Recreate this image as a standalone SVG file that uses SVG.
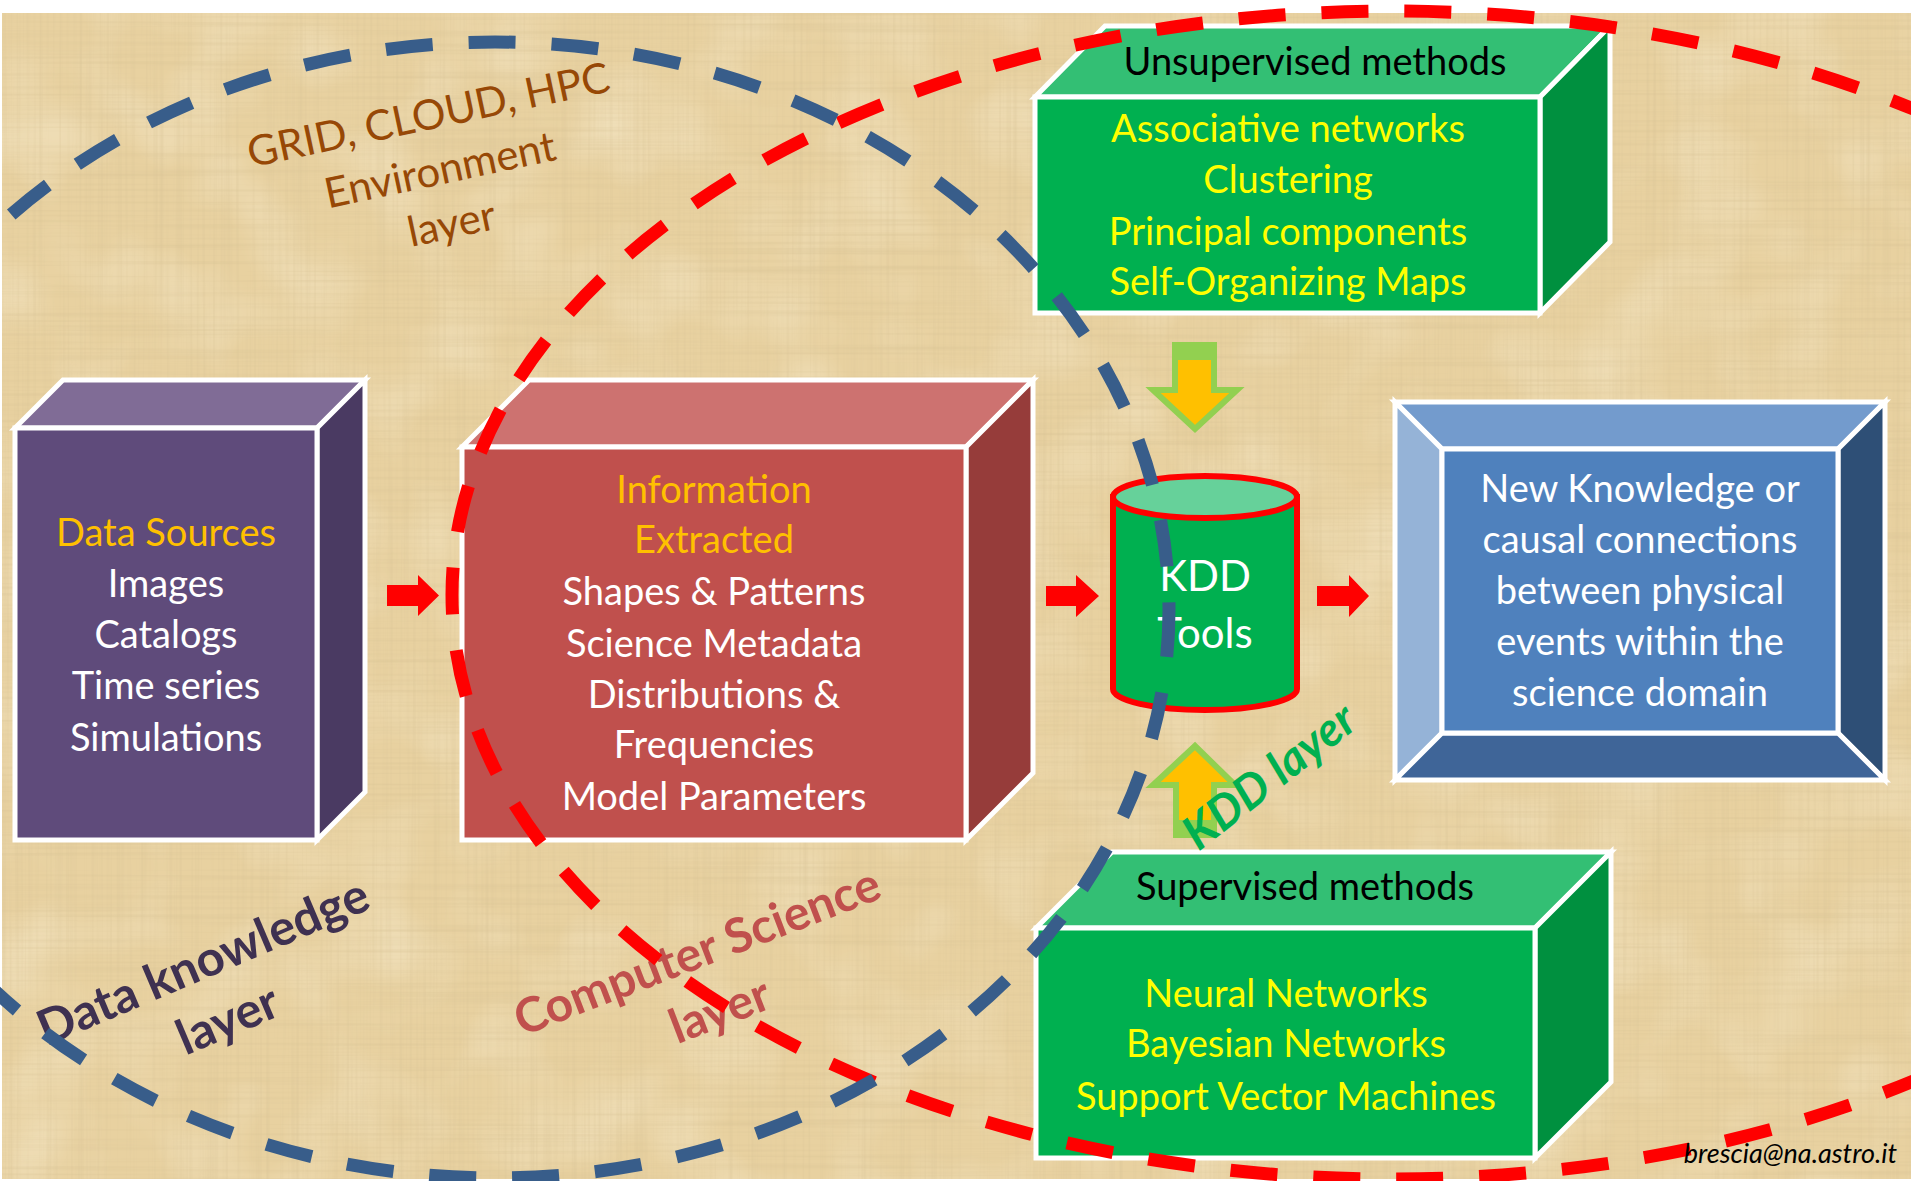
<svg xmlns="http://www.w3.org/2000/svg" width="1911" height="1181" viewBox="0 0 1911 1181">
  <style>
    .face { stroke: #FFFFFF; stroke-width: 5; stroke-linejoin: miter; }
    .txt { font-family: Lato, "Open Sans", "Liberation Sans", sans-serif; text-anchor: middle; }
    .body { font-size: 38px; }
    .white { fill: #FFFFFF; }
    .gold { fill: #FFC000; }
    .yellow { fill: #FFFF00; }
    .black { fill: #000000; }
    .flow { fill: #FF0000; }
    .ring { fill: none; stroke-width: 13; stroke-dasharray: 47 36; }
  </style>
  <defs>
    <filter id="grainH" x="0" y="0" width="100%" height="100%">
      <feTurbulence type="fractalNoise" baseFrequency="0.003 0.3" numOctaves="2" seed="4"/>
      <feColorMatrix type="matrix" values="0 0 0 0 0.66  0 0 0 0 0.52  0 0 0 0 0.28  0.8 0 0 0 -0.36"/>
    </filter>
    <filter id="grainV" x="0" y="0" width="100%" height="100%">
      <feTurbulence type="fractalNoise" baseFrequency="0.3 0.003" numOctaves="2" seed="9"/>
      <feColorMatrix type="matrix" values="0 0 0 0 0.68  0 0 0 0 0.54  0 0 0 0 0.3  0.8 0 0 0 -0.36"/>
    </filter>
    <filter id="grainL" x="0" y="0" width="100%" height="100%">
      <feTurbulence type="fractalNoise" baseFrequency="0.012 0.012" numOctaves="2" seed="2"/>
      <feColorMatrix type="matrix" values="0 0 0 0 0.98  0 0 0 0 0.93  0 0 0 0 0.78  0.7 0 0 0 -0.3"/>
    </filter>
  </defs>

  <!-- page and paper -->
  <rect x="0" y="0" width="1911" height="1181" fill="#FFFFFF"/>
  <g id="paper">
    <rect x="2" y="13" width="1909" height="1166" fill="#E8D1A0"/>
    <rect x="2" y="13" width="1909" height="1166" filter="url(#grainL)"/>
    <rect x="2" y="13" width="1909" height="1166" filter="url(#grainH)"/>
    <rect x="2" y="13" width="1909" height="1166" filter="url(#grainV)"/>
  </g>

  <!-- layer captions -->
  <g id="label-grid" class="txt" fill="#974806" font-size="42" transform="translate(443,184) rotate(-12)">
    <text x="0" y="-56">GRID, CLOUD, HPC</text>
    <text x="0" y="0">Environment</text>
    <text x="0" y="55">layer</text>
  </g>
  <g id="label-data" class="txt" fill="#3F3151" font-size="49" font-weight="bold" transform="translate(215,990) rotate(-23)">
    <text x="0" y="-14">Data knowledge</text>
    <text x="0" y="49">layer</text>
  </g>
  <g id="label-cs" class="txt" fill="#C0504D" font-size="48" font-weight="bold" transform="translate(708,980) rotate(-21)">
    <text x="0" y="-14">Computer Science</text>
    <text x="0" y="49">layer</text>
  </g>

  <!-- Data Sources cube -->
  <g id="data-sources">
    <polygon class="face" points="15,428 63,380 365,380 317,428" fill="#806C96"/>
    <polygon class="face" points="317,428 365,380 365,792 317,840" fill="#4A3A62"/>
    <rect class="face" x="15" y="428" width="302" height="412" fill="#5F4B7B"/>
    <g class="txt body">
      <text class="gold" x="166" y="546">Data Sources</text>
      <text class="white" x="166" y="597">Images</text>
      <text class="white" x="166" y="648">Catalogs</text>
      <text class="white" x="166" y="699">Time series</text>
      <text class="white" x="166" y="751">Simulations</text>
    </g>
  </g>

  <!-- Information Extracted cube -->
  <g id="information">
    <polygon class="face" points="462,447 529,380 1033,380 966,447" fill="#CD7270"/>
    <polygon class="face" points="966,447 1033,380 1033,773 966,840" fill="#963C3A"/>
    <rect class="face" x="462" y="447" width="504" height="393" fill="#C0504D"/>
    <g class="txt body">
      <text class="gold" x="714" y="503">Information</text>
      <text class="gold" x="714" y="553">Extracted</text>
      <text class="white" x="714" y="605">Shapes &amp; Patterns</text>
      <text class="white" x="714" y="657">Science Metadata</text>
      <text class="white" x="714" y="708">Distributions &amp;</text>
      <text class="white" x="714" y="758">Frequencies</text>
      <text class="white" x="714" y="810">Model Parameters</text>
    </g>
  </g>

  <!-- Unsupervised methods cube -->
  <g id="unsupervised">
    <polygon class="face" points="1035,97 1105,26 1610,26 1540,97" fill="#33BF74"/>
    <polygon class="face" points="1540,97 1610,26 1610,242 1540,313" fill="#00903F"/>
    <rect class="face" x="1035" y="97" width="505" height="216" fill="#00B050"/>
    <g class="txt body">
      <text class="black" x="1315" y="75">Unsupervised methods</text>
      <text class="yellow" x="1288" y="142">Associative networks</text>
      <text class="yellow" x="1288" y="193">Clustering</text>
      <text class="yellow" x="1288" y="245">Principal components</text>
      <text class="yellow" x="1288" y="295">Self-Organizing Maps</text>
    </g>
  </g>

  <!-- Supervised methods cube -->
  <g id="supervised">
    <polygon class="face" points="1036,928 1112,852 1611,852 1535,928" fill="#33BF74"/>
    <polygon class="face" points="1535,928 1611,852 1611,1082 1535,1158" fill="#00903F"/>
    <rect class="face" x="1036" y="928" width="499" height="230" fill="#00B050"/>
    <g class="txt body">
      <text class="black" x="1305" y="900">Supervised methods</text>
      <text class="yellow" x="1286" y="1007">Neural Networks</text>
      <text class="yellow" x="1286" y="1057">Bayesian Networks</text>
      <text class="yellow" x="1286" y="1110">Support Vector Machines</text>
    </g>
  </g>

  <!-- New Knowledge bevel panel -->
  <g id="knowledge">
    <polygon class="face" points="1395,402 1885,402 1838,449 1442,449" fill="#739BCD"/>
    <polygon class="face" points="1395,402 1442,449 1442,733 1395,780" fill="#95B3D7"/>
    <polygon class="face" points="1885,402 1885,780 1838,733 1838,449" fill="#2E4F76"/>
    <polygon class="face" points="1395,780 1442,733 1838,733 1885,780" fill="#3F6598"/>
    <rect class="face" x="1442" y="449" width="396" height="284" fill="#4F81BD"/>
    <g class="txt body white">
      <text x="1640" y="502">New Knowledge or</text>
      <text x="1640" y="553">causal connections</text>
      <text x="1640" y="604">between physical</text>
      <text x="1640" y="655">events within the</text>
      <text x="1640" y="706">science domain</text>
    </g>
  </g>

  <!-- KDD Tools cylinder -->
  <g id="kdd-tools">
    <path d="M1113,497 V689 A92,21 0 0 0 1297,689 V497 Z" fill="#00B050" stroke="#FF0000" stroke-width="6"/>
    <ellipse cx="1205" cy="497" rx="92" ry="21" fill="#66D19A" stroke="#FF0000" stroke-width="6"/>
    <g class="txt white" font-size="42">
      <text x="1205" y="591">KDD</text>
      <text x="1205" y="648">Tools</text>
    </g>
  </g>

  <!-- flow arrows -->
  <g id="connectors">
    <polygon class="flow" points="387,585 418,585 418,575 439,595.5 418,616 418,606 387,606"/>
    <polygon class="flow" points="1046,586 1076,586 1076,575 1099,596 1076,617 1076,606 1046,606"/>
    <polygon class="flow" points="1317,586 1349,586 1349,575 1369,596 1349,617 1349,606 1317,606"/>
    <g id="from-unsupervised">
      <polygon points="1175,345 1214,345 1214,390 1237,390 1195,429 1153,390 1175,390" fill="#FFC000" stroke="#92D050" stroke-width="6" stroke-linejoin="miter"/>
      <rect x="1175" y="345" width="39" height="15" fill="#92D050"/>
    </g>
    <g id="from-supervised">
      <polygon points="1176,835 1214,835 1214,785 1235,785 1195,746 1153,785 1176,785" fill="#FFC000" stroke="#92D050" stroke-width="6" stroke-linejoin="miter"/>
      <rect x="1176" y="820" width="38" height="15" fill="#92D050"/>
    </g>
  </g>

  <g id="label-kdd" class="txt" fill="#00B050" font-size="47" font-weight="bold" font-style="italic" transform="translate(1270,777) rotate(-38)">
    <text x="0" y="15">KDD layer</text>
  </g>

  <!-- dashed layer outlines -->
  <g id="layers">
    <ellipse class="ring" cx="1392" cy="595" rx="940" ry="584" stroke="#FF0000"/>
    <ellipse class="ring" cx="495" cy="610" rx="674" ry="568" stroke="#385D8A"/>
  </g>

  <text id="credit" x="1897" y="1163" font-family="Lato, 'Open Sans', sans-serif" font-size="27" font-style="italic" fill="#000000" text-anchor="end">brescia@na.astro.it</text>
</svg>
